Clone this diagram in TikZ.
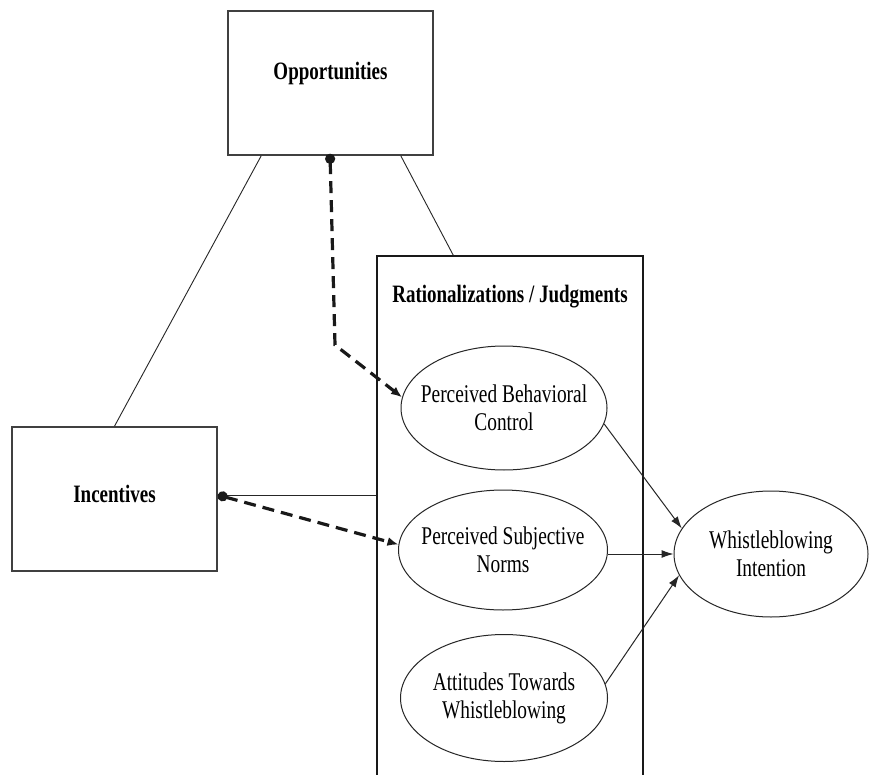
\documentclass[tikz,border=0pt]{standalone}
\usepackage{fontspec}
\setmainfont{Liberation Serif}[FakeStretch=0.76]
\usetikzlibrary{arrows.meta,shapes.geometric,calc}
\begin{document}
\begin{tikzpicture}[x=1pt,y=-1pt,
  boxnode/.style={draw=black!75,line width=1.6pt,rectangle,inner sep=0pt},
  boxtext/.style={font=\fontsize{25}{28}\selectfont\bfseries,inner sep=0pt},
  ellnode/.style={draw=black!85,line width=1pt,ellipse,inner xsep=-30pt,inner ysep=-8pt,font=\fontsize{25.5}{28}\selectfont,align=center},
  thinline/.style={draw=black!85,line width=0.9pt},
  solidarrow/.style={draw=black!85,line width=1pt,-{Latex[length=12pt,width=8pt]}},
  dasharrow/.style={draw=black!90,line width=3.2pt,dash pattern=on 12pt off 7pt,{Circle[length=10pt,width=10pt]}-{Latex[length=11pt,width=9pt]}}
]
\useasboundingbox (0,0) rectangle (869,775);
\fill[white] (0,0) rectangle (869,775);
% boxes
\node[boxnode,minimum width=205pt,minimum height=144pt] (opp) at (330.5,83) {};
\node[boxtext] (opplabel) at (330.5,73) {Opportunities};
\node[boxnode,minimum width=205pt,minimum height=144pt] (inc) at (114.5,499) {};
\node[boxtext] (inclabel) at (114.5,494) {Incentives};
\node[draw=black!90,line width=1.4pt,rectangle,minimum width=266pt,minimum height=560pt,inner sep=0pt] (rat) at (510,536) {};
\node[boxtext] (rattitle) at (510,297) {Rationalizations / Judgments};
% ellipses
\node[ellnode,minimum width=206pt,minimum height=124pt] (pbc) at (504,408) {Perceived Behavioral\\Control};
\node[ellnode,minimum width=209pt,minimum height=120pt] (psn) at (503,550) {Perceived Subjective\\Norms};
\node[ellnode,minimum width=207pt,minimum height=127pt] (atw) at (504,698) {Attitudes Towards\\Whistleblowing};
\node[ellnode,minimum width=194pt,minimum height=126pt] (wi) at (771,554) {Whistleblowing\\Intention};
% thin connectors
\draw[thinline] ([xshift=34pt]opp.south west) -- (inc.north);
\draw[thinline] ([xshift=-33pt]opp.south east) -- ([xshift=77pt]rat.north west);
\coordinate (incdot) at ([yshift=4pt]inc.east);
\draw[thinline] (incdot) -- (incdot -| rat.west);
% dashed arrows
\coordinate (oppdot) at ([xshift=-0.5pt,yshift=2pt]opp.south);
\coordinate (bend) at (335,345);
\draw[dasharrow] (oppdot) -- (bend) -- (pbc.174);
\draw[dasharrow] (incdot) -- (psn.177);
% solid arrows
\draw[solidarrow] (pbc.-9) -- (wi.164);
\draw[solidarrow] (psn.east |- wi.west) -- (wi.west);
\draw[solidarrow] (atw.8) -- (wi.-167);
\end{tikzpicture}
\end{document}
